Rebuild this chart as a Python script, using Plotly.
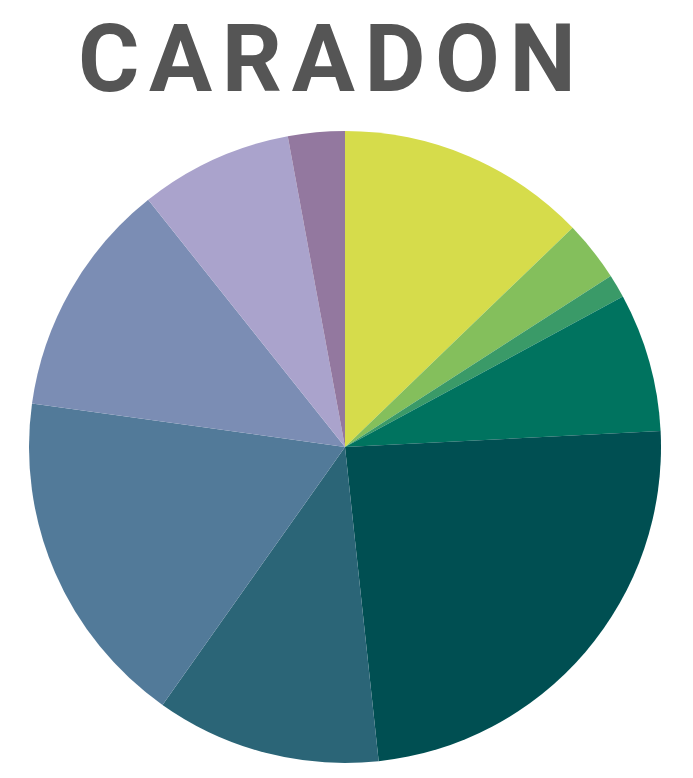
import plotly.graph_objects as go

# District breakdown shares (percent), clockwise from 12 o'clock
categories = ["A", "B", "C", "D", "E", "F", "G", "H", "I", "J"]
shares = [12.8, 3.1, 1.2, 7.1, 24.1, 11.5, 17.4, 12.1, 7.8, 2.9]
colors = ["#D6DC4B", "#84BF5C", "#3A9A68", "#00735F", "#004F52",
          "#2B6577", "#527A99", "#7B8DB4", "#AAA3CC", "#93789F"]
title_text = "CARADON"

W, H = 693, 778
cx, cy, r = 345, 447, 316

fig = go.Figure(go.Pie(
    labels=categories,
    values=shares,
    marker=dict(colors=colors, line=dict(width=0)),
    sort=False,
    direction="clockwise",
    rotation=0,
    textinfo="none",
    hoverinfo="label+percent",
    domain=dict(x=[(cx - r) / W, (cx + r) / W],
                y=[(H - cy - r) / H, (H - cy + r) / H]),
    showlegend=False,
))

# letter-spaced title
fig.add_annotation(
    text="\u200a".join(title_text),
    x=327 / W, y=1 - 59 / H, xref="paper", yref="paper",
    xanchor="center", yanchor="middle", showarrow=False,
    font=dict(family="Roboto", size=94, color="#555555", weight="bold"),
)

fig.update_layout(
    width=W, height=H,
    margin=dict(l=0, r=0, t=0, b=0),
    paper_bgcolor="white", plot_bgcolor="white",
)

fig.write_html("out.html")
